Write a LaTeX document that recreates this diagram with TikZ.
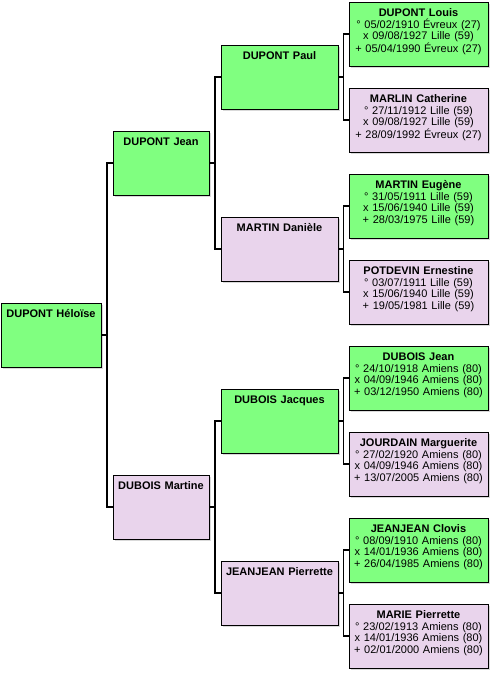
\documentclass[tikz,border=0pt]{standalone}
\usepackage{fontspec}
\setmainfont{Liberation Sans}
\usetikzlibrary{calc,shadows}
\definecolor{vert}{RGB}{128,255,128}
\definecolor{mauve}{RGB}{233,212,236}

\begin{document}
\begin{tikzpicture}[x=1pt, y=-1pt, font=\fontsize{11}{11.6}\selectfont,
   pers/.style={draw, line width=1pt, align=center, inner xsep=2pt, inner ysep=3pt,
     text height=11.5pt, text depth=46.5pt,
     drop shadow={shadow xshift=1.5pt, shadow yshift=-1.5pt, fill=black, opacity=.15}},
   hom/.style={pers, fill=vert}, fem/.style={pers, fill=mauve},
   g0/.style={text width=96pt}, g1/.style={text width=92pt},
   g2/.style={text width=113pt}, g3/.style={text width=135pt},
   lien/.style={line width=1.2pt, to path={-| ($(\tikztostart)!.5!(\tikztotarget)$) |- (\tikztotarget)}}]
  \useasboundingbox (0,0) rectangle (496,675);
  % generation 0
  \node[hom, g0] (heloise) at (51,335) {\textbf{DUPONT Héloïse}};
  % parents
  \node[hom, g1] (jean) at (161,163) {\textbf{DUPONT Jean}};
  \node[fem, g1] (martine) at (161,507) {\textbf{DUBOIS Martine}};
  % grands-parents
  \node[hom, g2] (paul) at (279.5,77) {\textbf{DUPONT Paul}};
  \node[fem, g2] (daniele) at (279.5,249) {\textbf{MARTIN Danièle}};
  \node[hom, g2] (jacques) at (279.5,421) {\textbf{DUBOIS Jacques}};
  \node[fem, g2] (pierrette) at (279.5,593) {\textbf{JEANJEAN Pierrette}};
  % arrière-grands-parents
  \node[hom, g3] (louis) at (418.5,34) {\textbf{DUPONT Louis}\\° 05/02/1910 Évreux (27)\\x 09/08/1927 Lille (59)\\+ 05/04/1990 Évreux (27)};
  \node[fem, g3] (catherine) at (418.5,120) {\textbf{MARLIN Catherine}\\° 27/11/1912 Lille (59)\\x 09/08/1927 Lille (59)\\+ 28/09/1992 Évreux (27)};
  \node[hom, g3] (eugene) at (418.5,206) {\textbf{MARTIN Eugène}\\° 31/05/1911 Lille (59)\\x 15/06/1940 Lille (59)\\+ 28/03/1975 Lille (59)};
  \node[fem, g3] (ernestine) at (418.5,292) {\textbf{POTDEVIN Ernestine}\\° 03/07/1911 Lille (59)\\x 15/06/1940 Lille (59)\\+ 19/05/1981 Lille (59)};
  \node[hom, g3] (jeandb) at (418.5,378) {\textbf{DUBOIS Jean}\\° 24/10/1918 Amiens (80)\\x 04/09/1946 Amiens (80)\\+ 03/12/1950 Amiens (80)};
  \node[fem, g3] (marguerite) at (418.5,464) {\textbf{JOURDAIN Marguerite}\\° 27/02/1920 Amiens (80)\\x 04/09/1946 Amiens (80)\\+ 13/07/2005 Amiens (80)};
  \node[hom, g3] (clovis) at (418.5,550) {\textbf{JEANJEAN Clovis}\\° 08/09/1910 Amiens (80)\\x 14/01/1936 Amiens (80)\\+ 26/04/1985 Amiens (80)};
  \node[fem, g3] (mariep) at (418.5,636) {\textbf{MARIE Pierrette}\\° 23/02/1913 Amiens (80)\\x 14/01/1936 Amiens (80)\\+ 02/01/2000 Amiens (80)};
  % liens
  \draw[lien] (heloise.east) to (jean.west);
  \draw[lien] (heloise.east) to (martine.west);
  \draw[lien] (jean.east) to (paul.west);
  \draw[lien] (jean.east) to (daniele.west);
  \draw[lien] (martine.east) to (jacques.west);
  \draw[lien] (martine.east) to (pierrette.west);
  \draw[lien] (paul.east) to (louis.west);
  \draw[lien] (paul.east) to (catherine.west);
  \draw[lien] (daniele.east) to (eugene.west);
  \draw[lien] (daniele.east) to (ernestine.west);
  \draw[lien] (jacques.east) to (jeandb.west);
  \draw[lien] (jacques.east) to (marguerite.west);
  \draw[lien] (pierrette.east) to (clovis.west);
  \draw[lien] (pierrette.east) to (mariep.west);
\end{tikzpicture}
\end{document}
